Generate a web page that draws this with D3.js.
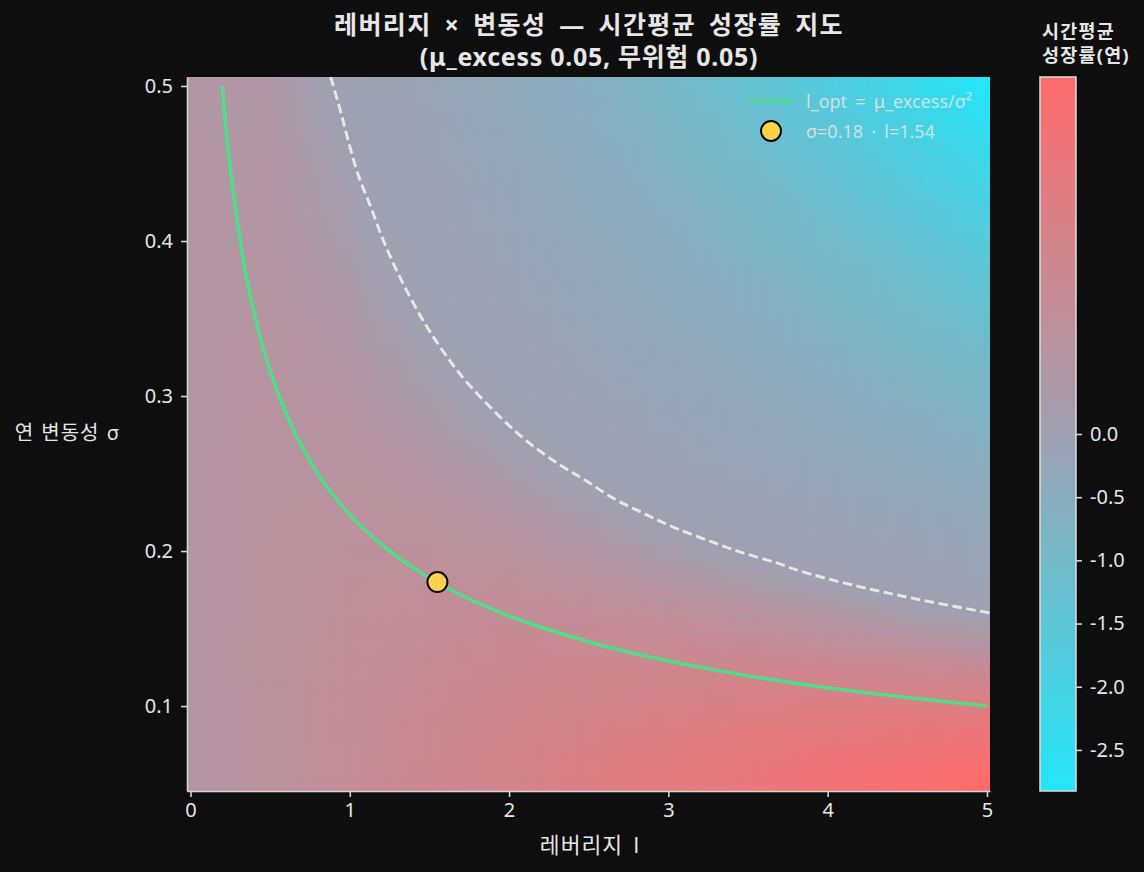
<!DOCTYPE html>
<html>
<head>
<meta charset="utf-8">
<script src="https://cdn.jsdelivr.net/npm/d3@7"></script>
<style>
  html, body { margin: 0; padding: 0; background: #0e0e0e; }
  svg { display: block; }
  text { font-family: "Noto Sans", "Noto Sans CJK KR", sans-serif; fill: #e6e6e6; }
</style>
</head>
<body>
<svg id="chart" width="1144" height="872"></svg>
<script>
'use strict';

// leverage columns and sigma rows of the growth map
const leverageCols = [0, 0.5, 1, 1.5, 2, 2.5, 3, 3.5, 4, 4.5, 5];
const sigmaRows = [0.05, 0.06, 0.07, 0.08, 0.09, 0.10, 0.11, 0.12, 0.13, 0.14, 0.15, 0.16, 0.17, 0.18, 0.19, 0.20,
                   0.21, 0.22, 0.23, 0.24, 0.25, 0.26, 0.27, 0.28, 0.29, 0.30, 0.31, 0.32, 0.33, 0.34, 0.35, 0.36,
                   0.37, 0.38, 0.39, 0.40, 0.41, 0.42, 0.43, 0.44, 0.45, 0.46, 0.47, 0.48, 0.49, 0.50];
const growth = [
  [.05,.075,.099,.122,.145,.167,.189,.21,.23,.25,.269],
  [.05,.075,.098,.121,.143,.164,.184,.203,.221,.239,.255],
  [.05,.074,.098,.119,.14,.16,.178,.195,.211,.225,.239],
  [.05,.074,.097,.118,.137,.155,.171,.186,.199,.21,.22],
  [.05,.074,.096,.116,.134,.15,.164,.175,.185,.193,.199],
  [.05,.074,.095,.114,.13,.144,.155,.164,.17,.174,.175],
  [.05,.074,.094,.111,.126,.137,.146,.151,.153,.153,.149],
  [.05,.073,.093,.109,.121,.13,.135,.137,.135,.129,.12],
  [.05,.073,.092,.106,.116,.122,.124,.122,.115,.104,.089],
  [.05,.073,.09,.103,.111,.114,.112,.105,.093,.077,.055],
  [.05,.072,.089,.1,.105,.105,.099,.087,.07,.047,.019],
  [.05,.072,.087,.096,.099,.095,.085,.068,.045,.016,-.02],
  [.05,.071,.086,.093,.092,.085,.07,.048,.019,-.018,-.061],
  [.05,.071,.084,.089,.085,.074,.054,.027,-.009,-.053,-.105],
  [.05,.07,.082,.084,.078,.062,.038,.004,-.039,-.091,-.151],
  [.05,.07,.08,.08,.07,.05,.02,-.02,-.07,-.13,-.2],
  [.05,.069,.078,.075,.062,.037,.002,-.045,-.103,-.172,-.251],
  [.05,.069,.076,.071,.053,.024,-.018,-.071,-.137,-.215,-.305],
  [.05,.068,.074,.066,.044,.01,-.038,-.099,-.173,-.261,-.361],
  [.05,.068,.071,.06,.035,-.005,-.059,-.128,-.211,-.308,-.42],
  [.05,.067,.069,.055,.025,-.02,-.081,-.158,-.25,-.358,-.481],
  [.05,.067,.066,.049,.015,-.036,-.104,-.189,-.291,-.41,-.545],
  [.05,.066,.064,.043,.004,-.053,-.128,-.222,-.333,-.463,-.611],
  [.05,.065,.061,.037,-.007,-.07,-.153,-.255,-.377,-.519,-.68],
  [.05,.065,.058,.03,-.018,-.088,-.178,-.29,-.423,-.576,-.751],
  [.05,.064,.055,.024,-.03,-.106,-.205,-.326,-.47,-.636,-.825],
  [.05,.063,.052,.017,-.042,-.125,-.232,-.364,-.519,-.698,-.901],
  [.05,.062,.049,.01,-.055,-.145,-.261,-.402,-.569,-.762,-.98],
  [.05,.061,.046,.003,-.068,-.165,-.29,-.442,-.621,-.828,-1.061],
  [.05,.061,.042,-.005,-.081,-.186,-.32,-.483,-.675,-.895,-1.145],
  [.05,.06,.039,-.013,-.095,-.208,-.351,-.525,-.73,-.965,-1.231],
  [.05,.059,.035,-.021,-.109,-.23,-.383,-.569,-.787,-1.037,-1.32],
  [.05,.058,.032,-.029,-.124,-.253,-.416,-.614,-.845,-1.111,-1.411],
  [.05,.057,.028,-.037,-.139,-.276,-.45,-.659,-.905,-1.187,-1.505],
  [.05,.056,.024,-.046,-.154,-.3,-.484,-.707,-.967,-1.265,-1.601],
  [.05,.055,.02,-.055,-.17,-.325,-.52,-.755,-1.03,-1.345,-1.7],
  [.05,.054,.016,-.064,-.186,-.35,-.557,-.805,-1.095,-1.427,-1.801],
  [.05,.053,.012,-.073,-.203,-.376,-.594,-.855,-1.161,-1.511,-1.905],
  [.05,.052,.008,-.083,-.22,-.403,-.632,-.907,-1.229,-1.597,-2.011],
  [.05,.051,.003,-.093,-.237,-.43,-.671,-.961,-1.299,-1.685,-2.12],
  [.05,.05,-.001,-.103,-.255,-.458,-.711,-1.015,-1.37,-1.775,-2.231],
  [.05,.049,-.006,-.113,-.273,-.486,-.752,-1.071,-1.443,-1.867,-2.345],
  [.05,.047,-.01,-.124,-.292,-.515,-.794,-1.128,-1.517,-1.962,-2.461],
  [.05,.046,-.015,-.134,-.311,-.545,-.837,-1.186,-1.593,-2.058,-2.58],
  [.05,.045,-.02,-.145,-.33,-.575,-.881,-1.246,-1.671,-2.156,-2.701],
  [.05,.044,-.025,-.156,-.35,-.606,-.925,-1.306,-1.75,-2.256,-2.825]
];

// green curve, optimal leverage per sigma
const optLeverage = [0.2, 0.221, 0.247, 0.277, 0.3125, 0.354, 0.408, 0.473, 0.556, 0.661, 0.74, 0.83, 0.945, 1.08, 1.25, 1.543, 1.953, 2.551, 2.959, 3.472, 4.132, 5];
const optSigma = [0.5, 0.475, 0.45, 0.425, 0.4, 0.375, 0.35, 0.325, 0.3, 0.275, 0.26, 0.245, 0.23, 0.215, 0.2, 0.18, 0.16, 0.14, 0.13, 0.12, 0.11, 0.1];

// white dashed curve, break-even line
const zeroLeverage = [0.88, 0.938, 0.989, 1.051, 1.127, 1.202, 1.284, 1.378, 1.485, 1.598, 1.723, 1.943, 2.119, 2.301, 2.476, 2.652, 2.841, 3.029, 3.242, 3.449, 3.682, 3.826, 4.184, 4.56, 5.02];
const zeroSigma = [0.5058, 0.4852, 0.4652, 0.4432, 0.4232, 0.4026, 0.3832, 0.3639, 0.3445, 0.3271, 0.3103, 0.2865, 0.2703, 0.2568, 0.2458, 0.2342, 0.2245, 0.2155, 0.2071, 0.1994, 0.1923, 0.1871, 0.1774, 0.169, 0.16];

const pointSigma = 0.18;
const pointLeverage = 1.55;

const xTicks = [0, 1, 2, 3, 4, 5];
const yTicks = [0.1, 0.2, 0.3, 0.4, 0.5];
const cbarTicks = [0, -0.5, -1, -1.5, -2, -2.5];

const svg = d3.select('#chart');
const defs = svg.append('defs');

const x = d3.scaleLinear().domain([-0.022, 5.019]).range([187, 990]);
const y = d3.scaleLinear().domain([0.0452, 0.5058]).range([791, 77]);
const color = d3.scaleLinear()
                .domain([-2.825, 0, 0.269])
                .range(['#22e6f8', '#a0a0b0', '#ff6b6b'])
                .clamp(true);

defs.append('clipPath').attr('id', 'plotclip')
    .append('rect')
    .attr('x', x.range()[0]).attr('y', y.range()[1])
    .attr('width', x.range()[1] - x.range()[0])
    .attr('height', y.range()[0] - y.range()[1]);

// one gradient per sigma row, stops at the leverage columns
function rowstops(row) {
    let stops = [];
    row.forEach((v, i) => {
        let off = leverageCols[i] / 5;
        if (i > 0 && row[i - 1] * v < 0) {
            // keep the mid colour where the row changes sign
            let t = row[i - 1] / (row[i - 1] - v);
            stops.push({off: (leverageCols[i - 1] + t * (leverageCols[i] - leverageCols[i - 1])) / 5, val: 0});
        }
        stops.push({off: off, val: v});
    });
    return stops;
}

growth.forEach((row, i) => {
    defs.append('linearGradient')
        .attr('id', 'row' + i)
        .attr('gradientUnits', 'userSpaceOnUse')
        .attr('x1', x(0)).attr('x2', x(5))
        .attr('y1', 0).attr('y2', 0)
        .selectAll('stop')
        .data(rowstops(row))
        .enter()
        .append('stop')
        .attr('offset', d => d.off)
        .attr('stop-color', d => color(d.val));
});

const plot = svg.append('g').attr('clip-path', 'url(#plotclip)');

// rows overlap upward by a pixel so no seam shows between them
plot.selectAll('rect.cell')
    .data(sigmaRows)
    .enter()
    .append('rect')
    .attr('class', 'cell')
    .attr('x', x.range()[0])
    .attr('width', x.range()[1] - x.range()[0])
    .attr('y', d => Math.round(y(d + 0.005)) - 1)
    .attr('height', d => Math.round(y(d - 0.005)) - Math.round(y(d + 0.005)) + 1)
    .attr('shape-rendering', 'crispEdges')
    .attr('fill', (d, i) => `url(#row${i})`);

const optLine = d3.line().x(d => x(d[0])).y(d => y(d[1])).curve(d3.curveCatmullRom);

plot.append('path')
    .datum(d3.zip(zeroLeverage, zeroSigma))
    .attr('d', optLine)
    .attr('fill', 'none')
    .attr('stroke', '#e8e8e8')
    .attr('stroke-width', 2.9)
    .attr('stroke-dasharray', '9.5 4.5');

plot.append('path')
    .datum(d3.zip(optLeverage, optSigma))
    .attr('d', optLine)
    .attr('fill', 'none')
    .attr('stroke', '#52dc8a')
    .attr('stroke-width', 3.6);

svg.append('circle')
   .attr('cx', x(pointLeverage)).attr('cy', y(pointSigma)).attr('r', 10)
   .attr('fill', '#ffd24d').attr('stroke', '#0b0b0b').attr('stroke-width', 2);

// axes
function styleaxis(g) {
    g.selectAll('.domain').attr('stroke', '#d4d4d4').attr('stroke-width', 1.6);
    g.selectAll('.tick line').attr('stroke', '#d4d4d4').attr('stroke-width', 1.6);
    g.selectAll('.tick text').attr('font-size', 20).attr('fill', '#e6e6e6')
     .attr('font-family', '"Noto Sans", "Noto Sans CJK KR", sans-serif');
}

svg.append('g')
   .attr('transform', `translate(0,${y.range()[0]})`)
   .call(d3.axisBottom(x).tickValues(xTicks).tickFormat(d3.format('d')).tickSize(6).tickSizeOuter(0).tickPadding(6))
   .call(styleaxis);

svg.append('g')
   .attr('transform', `translate(${x.range()[0]},0)`)
   .call(d3.axisLeft(y).tickValues(yTicks).tickFormat(d3.format('.1f')).tickSize(6).tickSizeOuter(0).tickPadding(8))
   .call(styleaxis);

// titles
svg.append('text').attr('x', 589).attr('y', 34).attr('text-anchor', 'middle')
   .attr('font-size', 25).attr('font-weight', 700).attr('letter-spacing', 1.4).attr('word-spacing', 5)
   .text('레버리지 × 변동성 — 시간평균 성장률 지도');
svg.append('text').attr('x', 589).attr('y', 66).attr('text-anchor', 'middle')
   .attr('font-size', 25).attr('font-weight', 700).attr('letter-spacing', 0.7)
   .text('(μ_excess 0.05, 무위험 0.05)');

svg.append('text').attr('x', 590).attr('y', 853).attr('text-anchor', 'middle')
   .attr('font-size', 21.5).attr('letter-spacing', 1).attr('word-spacing', 4).text('레버리지 l');
svg.append('text').attr('x', 120).attr('y', 440).attr('text-anchor', 'end')
   .attr('font-size', 20).attr('letter-spacing', 1).attr('word-spacing', 1).text('연 변동성 σ');

// legend
svg.append('line')
   .attr('x1', 750).attr('x2', 792).attr('y1', 101).attr('y2', 101)
   .attr('stroke', '#52dc8a').attr('stroke-width', 3.6);
svg.append('circle')
   .attr('cx', 771).attr('cy', 131).attr('r', 10)
   .attr('fill', '#ffd24d').attr('stroke', '#0b0b0b').attr('stroke-width', 2);
svg.append('text').attr('x', 806).attr('y', 108).attr('font-size', 18).attr('fill-opacity', 0.85).attr('word-spacing', 3.5)
   .text('l_opt = μ_excess/σ²');
svg.append('text').attr('x', 806).attr('y', 138).attr('font-size', 18).attr('fill-opacity', 0.85).attr('word-spacing', 3.5)
   .text('σ=0.18 · l=1.54');

// colourbar
const cbarX = 1040, cbarW = 36;
const cbar = d3.scaleLinear().domain([-2.825, 0, 0.269]).range([791, 434, 77]);

const cbarGrad = defs.append('linearGradient')
    .attr('id', 'cbargrad')
    .attr('x1', 0).attr('x2', 0).attr('y1', 1).attr('y2', 0);
cbarGrad.selectAll('stop')
    .data(cbar.domain())
    .enter()
    .append('stop')
    .attr('offset', d => (791 - cbar(d)) / (791 - 77))
    .attr('stop-color', d => color(d));

svg.append('rect')
   .attr('x', cbarX).attr('y', 77).attr('width', cbarW).attr('height', 714)
   .attr('fill', 'url(#cbargrad)')
   .attr('stroke', '#dcdcdc').attr('stroke-width', 1.5);

svg.append('g')
   .attr('transform', `translate(${cbarX + cbarW},0)`)
   .call(d3.axisRight(cbar).tickValues(cbarTicks).tickFormat(d3.format('.1f')).tickSize(6).tickPadding(8))
   .call(styleaxis)
   .call(g => g.select('.domain').remove());

svg.selectAll('.tick text').text(function () { return this.textContent.replace('−', '-'); });

svg.append('text').attr('x', 1042).attr('y', 38).attr('font-size', 18.5).attr('font-weight', 700).attr('letter-spacing', 1.2).text('시간평균');
svg.append('text').attr('x', 1042).attr('y', 62).attr('font-size', 18.5).attr('font-weight', 700).attr('letter-spacing', 1.2).text('성장률(연)');
</script>
</body>
</html>
